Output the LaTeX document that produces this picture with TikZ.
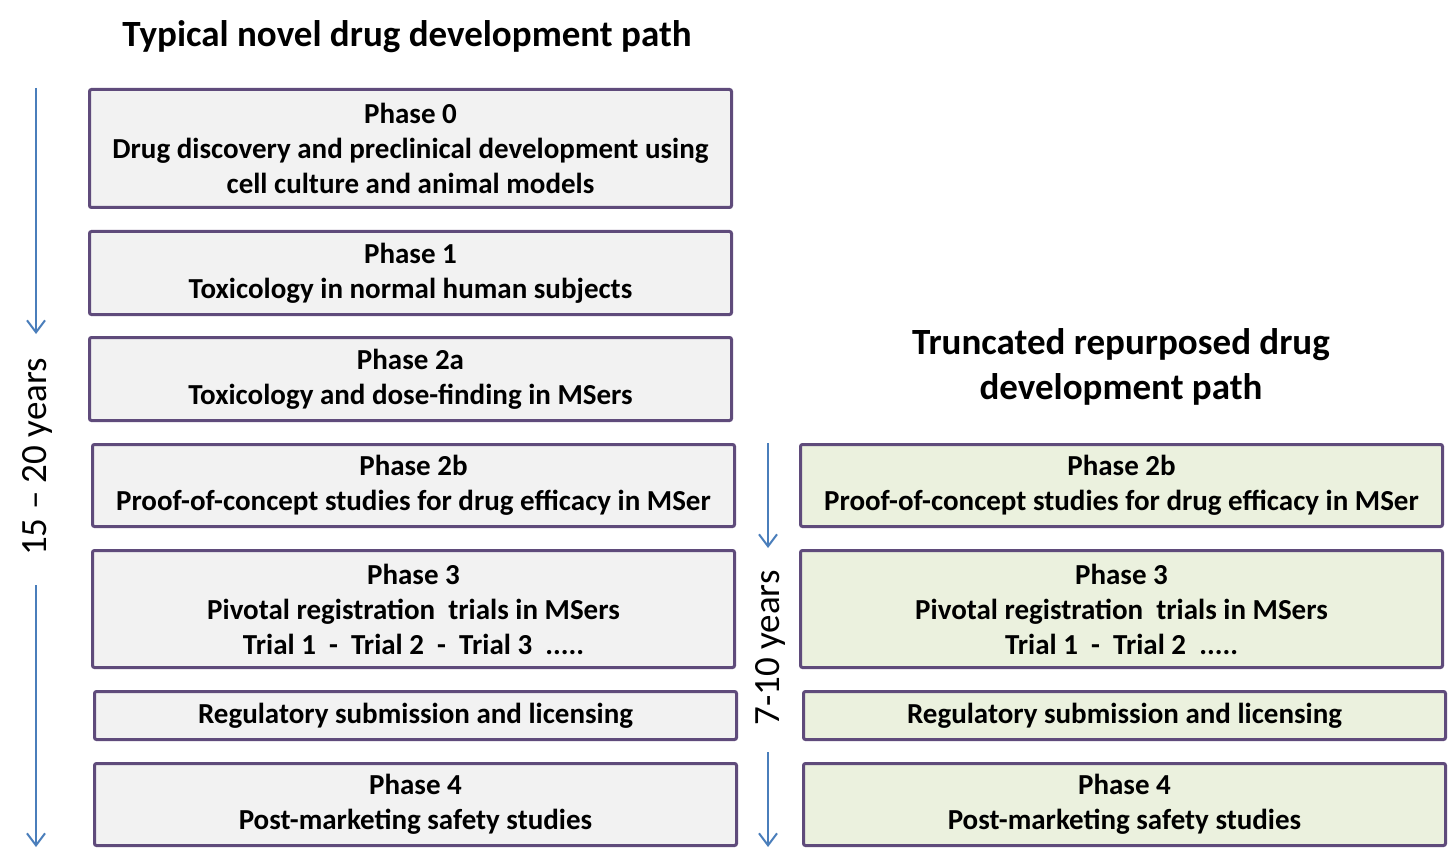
\documentclass[tikz,border=0pt]{standalone}
\usepackage{fontspec}
\setmainfont{Carlito}
\usetikzlibrary{arrows.meta}

\definecolor{boxframe}{RGB}{95,75,123}
\definecolor{novelfill}{RGB}{242,242,242}
\definecolor{repurfill}{RGB}{235,241,222}
\definecolor{timeline}{RGB}{74,126,187}

\tikzset{
  phasebox/.style={draw=boxframe, line width=3pt, rounded corners=2pt, align=center,
    inner sep=0pt, minimum width=642pt, font=\fontsize{29}{35}\selectfont\bfseries},
  novelbox/.style={phasebox, fill=novelfill},
  repurbox/.style={phasebox, fill=repurfill},
  pathtitle/.style={align=center, font=\fontsize{37}{45}\selectfont\bfseries},
  yearlabel/.style={rotate=90, font=\fontsize{37}{40}\selectfont},
  timearrow/.style={draw=timeline, line width=2pt, ->, >={Straight Barb[length=12pt,width=18pt]}}
}

\begin{document}
\begin{tikzpicture}[x=1pt, y=-1pt]
            \useasboundingbox (0,0) rectangle (1449,861);

            % titles
            \node[pathtitle] (noveltitle) at (407,37) {Typical novel drug development path};
            \node[pathtitle] (repurtitle) at (1121,367) {Truncated repurposed drug\\development path};

            % typical path
            \node[novelbox, minimum height=118pt] (n0) at (410.5,148.5) {Phase 0\\Drug discovery and preclinical development using\\cell culture and animal models};
            \node[novelbox, minimum height=83pt] (n1) at (410.5,273) {Phase 1\\Toxicology in normal human subjects};
            \node[novelbox, minimum height=83pt] (n2a) at (410.5,379) {Phase 2a\\Toxicology and dose-finding in MSers};
            \node[novelbox, minimum height=82pt] (n2b) at (413.5,485.5) {Phase 2b\\Proof-of-concept studies for drug efficacy in MSer};
            \node[novelbox, minimum height=117pt] (n3) at (413.5,609) {Phase 3\\Pivotal registration\ \ trials in MSers\\Trial 1 \ - \ Trial 2 \ - \ Trial 3 \ .....};
            \node[novelbox, minimum height=48pt] (nreg) at (415.5,715.5) {Regulatory submission and licensing};
            \node[novelbox, minimum height=82pt] (n4) at (415.5,804.5) {Phase 4\\Post-marketing safety studies};

            % repurposed path
            \node[repurbox, minimum height=82pt] (r2b) at (1121.5,485.5) {Phase 2b\\Proof-of-concept studies for drug efficacy in MSer};
            \node[repurbox, minimum height=117pt] (r3) at (1121.5,609) {Phase 3\\Pivotal registration\ \ trials in MSers\\Trial 1 \ - \ Trial 2 \ .....};
            \node[repurbox, minimum height=48pt] (rreg) at (1124.5,715.5) {Regulatory submission and licensing};
            \node[repurbox, minimum height=82pt] (r4) at (1124.5,804.5) {Phase 4\\Post-marketing safety studies};

            % time lines
            \node[yearlabel] (novelyears) at (37,457) {15 -- 20 years};
            \coordinate (nt1) at (36,88);
            \coordinate (nt2) at (36,334);
            \coordinate (nt3) at (36,585);
            \coordinate (nt4) at (36,847);
            \draw[timearrow] (nt1) -- (nt2);
            \draw[timearrow] (nt3) -- (nt4);

            \node[yearlabel] (repuryears) at (770,648) {7-10 years};
            \coordinate (rt1) at (768,443);
            \coordinate (rt2) at (768,548);
            \coordinate (rt3) at (768,752);
            \coordinate (rt4) at (768,847);
            \draw[timearrow] (rt1) -- (rt2);
            \draw[timearrow] (rt3) -- (rt4);

        \end{tikzpicture}
\end{document}
